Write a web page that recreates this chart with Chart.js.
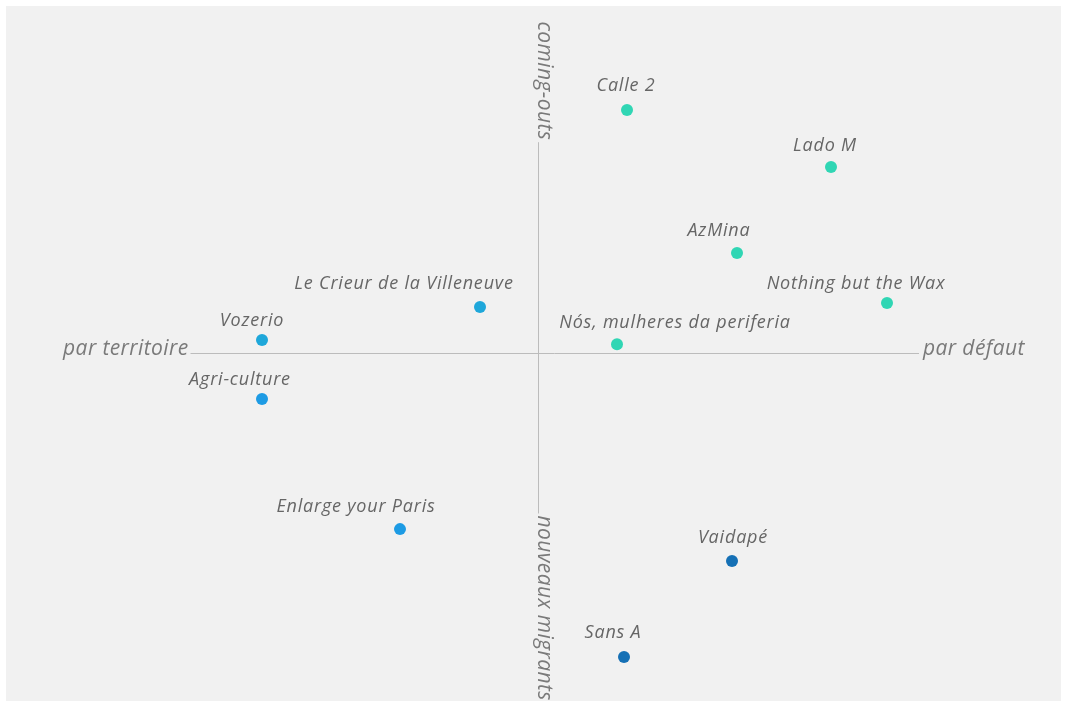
<!DOCTYPE html>
<html>
<head>
<meta charset="utf-8">
<script src="https://cdn.jsdelivr.net/npm/chart.js@4/dist/chart.umd.min.js"></script>
<style>
  html, body { margin: 0; padding: 0; background: #ffffff; }
  #wrap { position: absolute; left: 0; top: 0; width: 1067px; height: 707px; }
  #bg { position: absolute; left: 6px; top: 6px; width: 1055px; height: 695px; background: #f1f1f1; }
  canvas { position: absolute; left: 0; top: 0; }
</style>
</head>
<body>
<div id="wrap">
  <div id="bg"></div>
  <canvas id="c" width="1067" height="707"></canvas>
</div>
<script>
// ---- data ----
const names = ["Calle 2", "Lado M", "AzMina", "Nothing but the Wax", "Nós, mulheres da periferia",
               "Le Crieur de la Villeneuve", "Vozerio", "Agri-culture", "Enlarge your Paris", "Vaidapé", "Sans A"];
const xValues = [1.78, 5.86, 3.98, 6.98, 1.58, -1.16, -5.52, -5.52, -2.76, 3.88, 1.72];
const yValues = [7.15, 5.47, 2.94, 1.47, 0.26, 1.35, 0.38, -1.35, -5.18, -6.12, -8.94];
const groups  = ["teal", "teal", "teal", "teal", "teal", "cyan", "cyan", "blue", "blue", "dark", "dark"];
const axisLabels = { left: "par territoire", right: "par défaut", top: "coming-outs", bottom: "nouveaux migrants" };
const axisRange = [-10, 10];
// axis line extents (data units) between the axis labels
const hLineFrom = -6.95, hLineTo = 7.62;
const vLineFrom = 6.2, vLineTo = -4.72;

// ---- styles ----
const groupColors = { teal: "#30d6b4", cyan: "#1ea7da", blue: "#1d9be4", dark: "#1570b5" };
// label placement offsets in pixels relative to each point
const labelDx = [-1, -6, -18, -31, 58, -76, -10, -22, -44, 1, -11];
const labelDy = [-24, -21, -22, -19, -21, -23, -19, -19, -22, -23, -24];

const points = names.map((n, i) => ({ x: xValues[i], y: yValues[i] }));

const quadrantPlugin = {
  id: "quadrant",
  beforeDatasetsDraw(chart) {
    const ctx = chart.ctx;
    const xs = chart.scales.x, ys = chart.scales.y;
    const x0 = xs.getPixelForValue(0), y0 = ys.getPixelForValue(0);
    ctx.save();
    ctx.strokeStyle = "#bcbcbc";
    ctx.lineWidth = 1;
    ctx.beginPath();
    ctx.moveTo(xs.getPixelForValue(hLineFrom), Math.round(y0) + 0.5);
    ctx.lineTo(xs.getPixelForValue(hLineTo), Math.round(y0) + 0.5);
    ctx.moveTo(Math.round(x0) + 0.5, ys.getPixelForValue(vLineFrom));
    ctx.lineTo(Math.round(x0) + 0.5, ys.getPixelForValue(vLineTo));
    ctx.stroke();

    ctx.fillStyle = "#7a7a7a";
    ctx.font = "italic 21px 'Open Sans'";
    ctx.letterSpacing = "0.4px";
    ctx.textBaseline = "middle";
    ctx.textAlign = "right";
    ctx.fillText(axisLabels.left, xs.getPixelForValue(hLineFrom) - 2, y0 - 4);
    ctx.textAlign = "left";
    ctx.fillText(axisLabels.right, xs.getPixelForValue(hLineTo) + 4, y0 - 4);

    // vertical labels, rotated clockwise
    ctx.save();
    ctx.translate(x0 + 6, ys.getPixelForValue(vLineFrom) - 2);
    ctx.rotate(Math.PI / 2);
    ctx.textAlign = "right";
    ctx.fillText(axisLabels.top, 0, 0);
    ctx.restore();
    ctx.save();
    ctx.translate(x0 + 6, ys.getPixelForValue(vLineTo) + 2);
    ctx.rotate(Math.PI / 2);
    ctx.textAlign = "left";
    ctx.fillText(axisLabels.bottom, 0, 0);
    ctx.restore();
    ctx.restore();
  },
  afterDatasetsDraw(chart) {
    const ctx = chart.ctx;
    const meta = chart.getDatasetMeta(0);
    ctx.save();
    ctx.fillStyle = "#666666";
    ctx.font = "italic 18px 'Open Sans'";
    ctx.letterSpacing = "0.8px";
    ctx.textAlign = "center";
    ctx.textBaseline = "middle";
    meta.data.forEach((el, i) => {
      ctx.fillText(names[i], el.x + labelDx[i], el.y + labelDy[i]);
    });
    ctx.restore();
  }
};

new Chart(document.getElementById("c"), {
  type: "scatter",
  data: {
    datasets: [{
      data: points,
      pointRadius: 6,
      pointHoverRadius: 6,
      borderWidth: 0,
      pointBackgroundColor: groups.map(g => groupColors[g]),
      pointBorderColor: groups.map(g => groupColors[g])
    }]
  },
  options: {
    responsive: false,
    animation: false,
    events: [],
    layout: { padding: { left: 38, right: 29, top: 13, bottom: 14 } },
    plugins: { legend: { display: false }, tooltip: { enabled: false } },
    scales: {
      x: { type: "linear", min: axisRange[0], max: axisRange[1], display: false },
      y: { type: "linear", min: axisRange[0], max: axisRange[1], display: false }
    }
  },
  plugins: [quadrantPlugin]
});
</script>
</body>
</html>
